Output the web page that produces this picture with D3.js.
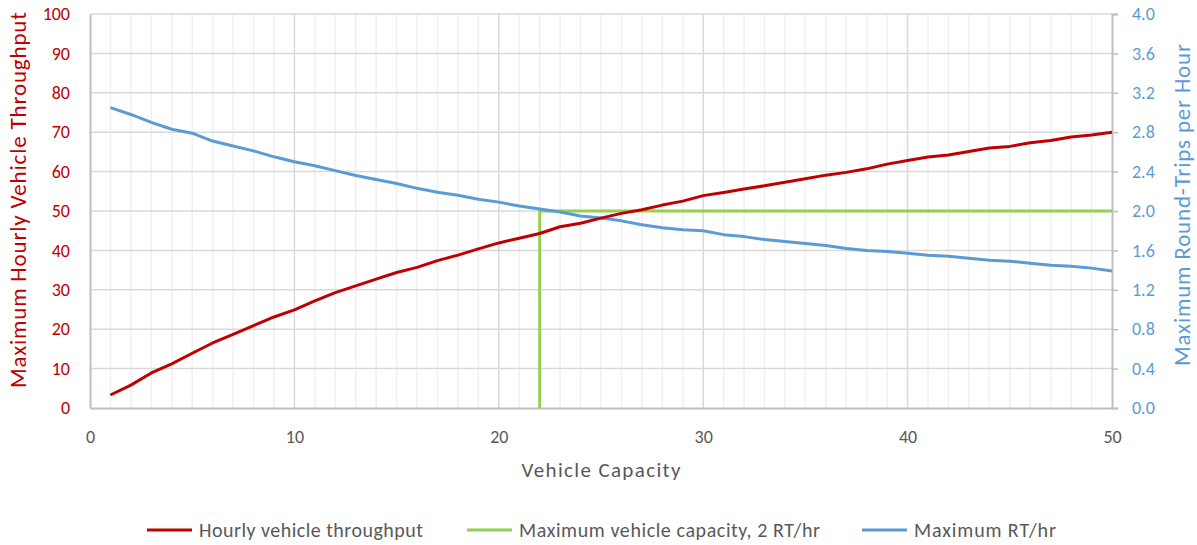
<!DOCTYPE html>
<html>
<head>
<meta charset="utf-8">
<script src="https://cdn.jsdelivr.net/npm/d3@7"></script>
<style>
  body { margin: 0; background: #fff; }
  svg text { font-family: Calibri, Carlito, Lato, sans-serif; }
</style>
</head>
<body>
<svg width="1197" height="545"></svg>
<script>
// chart data
const capacity = d3.range(1, 51);
const throughput = [3.3, 5.8, 8.9, 11.2, 13.9, 16.5, 18.7, 20.9, 23.1, 24.9,
  27.2, 29.3, 31.0, 32.7, 34.4, 35.7, 37.4, 38.8, 40.4, 41.9,
  43.1, 44.3, 46.0, 46.9, 48.2, 49.4, 50.3, 51.5, 52.5, 53.9,
  54.7, 55.6, 56.4, 57.3, 58.2, 59.1, 59.8, 60.7, 61.9, 62.8,
  63.7, 64.2, 65.1, 66.0, 66.4, 67.3, 67.9, 68.8, 69.3, 70.0];
const roundTrips = [3.05, 2.98, 2.90, 2.83, 2.79, 2.71, 2.66, 2.61, 2.55, 2.50,
  2.46, 2.41, 2.36, 2.32, 2.28, 2.23, 2.19, 2.16, 2.12, 2.09,
  2.05, 2.02, 1.99, 1.95, 1.93, 1.90, 1.86, 1.83, 1.81, 1.80,
  1.76, 1.74, 1.71, 1.69, 1.67, 1.65, 1.62, 1.60, 1.59, 1.57,
  1.55, 1.54, 1.52, 1.50, 1.49, 1.47, 1.45, 1.44, 1.42, 1.39];
const maxCapX = [22, 22, 50];
const maxCapY = [0, 50, 50];

const leftTicks = [0, 10, 20, 30, 40, 50, 60, 70, 80, 90, 100];
const rightTicks = [0, 0.4, 0.8, 1.2, 1.6, 2.0, 2.4, 2.8, 3.2, 3.6, 4.0];
const xTicks = [0, 10, 20, 30, 40, 50];

const RED = "#C00000", GREEN = "#92D050", BLUE = "#5B9BD5";

const svg = d3.select("svg");
const margin = {top: 14, right: 85, bottom: 137, left: 90};
const width = 1197 - margin.left - margin.right;
const height = 545 - margin.top - margin.bottom;

const g = svg.append("g").attr("transform", `translate(${margin.left},${margin.top})`);

const x = d3.scaleLinear().domain([0, 50]).range([0, width]);
const yL = d3.scaleLinear().domain([0, 100]).range([height, 0]);
const yR = d3.scaleLinear().domain([0, 4]).range([height, 0]);

// minor vertical grid
g.append("g").selectAll("line")
  .data(d3.range(1, 50).filter(d => d % 10 !== 0))
  .join("line")
  .attr("x1", d => x(d)).attr("x2", d => x(d))
  .attr("y1", 0).attr("y2", height)
  .attr("stroke", "#F0F0F0").attr("stroke-width", 1.5);

// major vertical grid
g.append("g").selectAll("line")
  .data(xTicks.slice(1, -1))
  .join("line")
  .attr("x1", d => x(d)).attr("x2", d => x(d))
  .attr("y1", 0).attr("y2", height)
  .attr("stroke", "#D9D9D9").attr("stroke-width", 1.5);

// horizontal grid
g.append("g").selectAll("line")
  .data(leftTicks.slice(1))
  .join("line")
  .attr("x1", 0).attr("x2", width)
  .attr("y1", d => yL(d)).attr("y2", d => yL(d))
  .attr("stroke", "#D9D9D9").attr("stroke-width", 1.5);

// axes
const axL = g.append("g")
  .call(d3.axisLeft(yL).tickValues(leftTicks).tickSize(0).tickPadding(20));
const axR = g.append("g").attr("transform", `translate(${width},0)`)
  .call(d3.axisRight(yR).tickValues(rightTicks).tickFormat(d3.format(".1f")).tickSize(6).tickPadding(14));
const axB = g.append("g").attr("transform", `translate(0,${height})`)
  .call(d3.axisBottom(x).tickValues(xTicks).tickSize(0).tickPadding(22));

[axL, axR, axB].forEach(a => {
  a.select(".domain").attr("stroke", "#BFBFBF").attr("stroke-width", 2);
  a.selectAll(".tick line").attr("stroke", "#BFBFBF").attr("stroke-width", 1.5);
  a.selectAll("text").style("font-size", "18px");
});
axL.selectAll("text").attr("fill", RED);
axR.selectAll("text").attr("fill", BLUE);
axB.selectAll("text").attr("fill", "#595959");

// lines
const lineL = d3.line().x(d => x(d[0])).y(d => yL(d[1]));
const lineR = d3.line().x(d => x(d[0])).y(d => yR(d[1]));

g.append("path")
  .datum(d3.zip(maxCapX, maxCapY))
  .attr("d", lineL).attr("fill", "none")
  .attr("stroke", GREEN).attr("stroke-width", 3);

g.append("path")
  .datum(d3.zip(capacity, roundTrips))
  .attr("d", lineR).attr("fill", "none")
  .attr("stroke", BLUE).attr("stroke-width", 3).attr("stroke-linejoin", "round");

g.append("path")
  .datum(d3.zip(capacity, throughput))
  .attr("d", lineL).attr("fill", "none")
  .attr("stroke", RED).attr("stroke-width", 3).attr("stroke-linejoin", "round");

// axis titles
svg.append("text")
  .attr("transform", "translate(26,200) rotate(-90)")
  .attr("text-anchor", "middle")
  .attr("fill", RED).style("font-size", "23px")
  .attr("textLength", 376).attr("lengthAdjust", "spacing")
  .text("Maximum Hourly Vehicle Throughput");

svg.append("text")
  .attr("transform", "translate(1190,205) rotate(-90)")
  .attr("text-anchor", "middle")
  .attr("fill", BLUE).style("font-size", "23px")
  .attr("textLength", 322).attr("lengthAdjust", "spacing")
  .text("Maximum Round-Trips per Hour");

svg.append("text")
  .attr("x", margin.left + x(25)).attr("y", 477)
  .attr("text-anchor", "middle")
  .attr("fill", "#595959").style("font-size", "21px")
  .attr("textLength", 159).attr("lengthAdjust", "spacing")
  .text("Vehicle Capacity");

// legend
const legend = [
  {label: "Hourly vehicle throughput", color: RED, x: 147, w: 224},
  {label: "Maximum vehicle capacity, 2 RT/hr", color: GREEN, x: 467, w: 301},
  {label: "Maximum RT/hr", color: BLUE, x: 862, w: 142}
];
const lg = svg.append("g").selectAll("g").data(legend).join("g")
  .attr("transform", d => `translate(${d.x},530)`);
lg.append("line").attr("x1", 0).attr("x2", 45)
  .attr("stroke", d => d.color).attr("stroke-width", 3);
lg.append("text").attr("x", 52).attr("dy", "0.35em")
  .attr("fill", "#595959").style("font-size", "20px")
  .attr("textLength", d => d.w).attr("lengthAdjust", "spacing")
  .text(d => d.label);
</script>
</body>
</html>
